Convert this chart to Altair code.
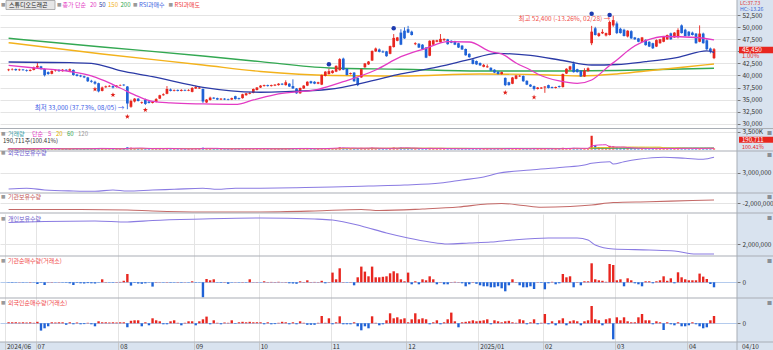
import altair as alt
import pandas as pd

FONT = "Noto Sans CJK KR"
UP, DN = "#e8261f", "#1f62d6"
PINK, NAVY, ORANGE, GREEN = "#e33bc4", "#2b3aa6", "#f3b21b", "#33a852"
PURPLE, BROWN = "#8a7be2", "#c46a68"
GRID = "#e4e4e4"
ZERO = "#b4cbed"
SEP = "#a9aeb5"
BG_AXIS = "#d9e3ef"
FS = 6.5
LFS = 6

# ---------------- data ----------------
N_DAYS = 197
day_index = list(range(N_DAYS))

opens = [
    41100, 41250, 41350, 41100, 41250, 41100, 40950, 41150, 41650, 41900,
    41350, 40700, 40350, 40950, 41150, 40900, 41200, 41000, 41150, 40200,
    40000, 39850, 39600, 38900, 38700, 38400, 36800, 37550, 37700, 37800,
    37600, 37900, 38100, 37700, 33500, 34600, 35200, 34300, 35000, 34600,
    34300, 34500, 35200, 35900, 36200, 37100, 36800, 37000, 36800, 37000,
    36850, 36600, 37300, 37300, 37200, 34400, 34900, 35400, 35300, 35000,
    35200, 35100, 35000, 35700, 35300, 35300, 35900, 36200, 36400, 37000,
    37500, 37800, 38000, 37800, 37900, 38000, 38300, 38000, 38300, 37800,
    37300, 36300, 37300, 37900, 38800, 38700, 38300, 38100, 39900, 40300,
    40500, 40800, 41100, 43500, 41400, 40300, 40600, 39500, 39600, 41700,
    42300, 43100, 45000, 45400, 45000, 45000, 44500, 45900, 47200, 48900,
    49300, 49600, 49100, 46500, 46600, 46400, 45800, 44100, 46400, 47000,
    46900, 47300, 47500, 47200, 47100, 46700, 46200, 45500, 44500, 43300,
    43000, 42600, 41800, 41700, 41600, 41200, 40800, 40300, 39500, 38600,
    38300, 39300, 39800, 39900, 38900, 38100, 37800, 37200, 37300, 37500,
    38000, 37600, 37400, 37800, 37600, 40400, 41200, 42500, 41300, 41000,
    39800, 40900, 46700, 49800, 48200, 48750, 48300, 48400, 50400, 50800,
    49700, 49500, 48100, 49200, 47900, 47700, 47000, 47400, 47000, 46700,
    46000, 46700, 47000, 47500, 48750, 47900, 48100, 50400, 49500, 49100,
    48900, 48700, 47000, 48700, 47300, 45600, 43600,
]
highs = [
    41400, 41500, 41450, 41400, 41350, 41250, 41300, 41850, 42700, 42000,
    41450, 40850, 41050, 41200, 41300, 41350, 41300, 41450, 41250, 40300,
    40150, 39950, 39700, 39100, 38900, 38500, 37700, 37900, 38000, 37950,
    38000, 38150, 38200, 37800, 35000, 35300, 35300, 34600, 35200, 34800,
    34700, 35300, 36000, 36300, 37800, 37300, 37100, 37100, 37150, 37100,
    37150, 37600, 37900, 37700, 37300, 35100, 35600, 35500, 35400, 35300,
    35300, 35200, 35400, 35800, 35400, 36200, 36400, 36550, 37300, 37600,
    38000, 38100, 38100, 38100, 38200, 38400, 38400, 39000, 38400, 39200,
    37400, 37500, 38000, 38800, 38900, 38800, 38700, 40200, 40900, 41400,
    41100, 42100, 43600, 43700, 41500, 40600, 40700, 39600, 41400, 42600,
    43000, 45200, 45800, 45600, 45200, 45100, 46200, 48600, 48000, 49600,
    50000, 50300, 49300, 46900, 46700, 46500, 45900, 47300, 47400, 47400,
    48600, 47700, 47600, 47300, 47200, 46800, 46300, 45600, 44600, 43400,
    43100, 42700, 42400, 42300, 41700, 41300, 40900, 40800, 39600, 38700,
    39700, 40100, 40100, 40000, 39000, 38200, 37900, 37600, 37600, 37800,
    38100, 37700, 37700, 37900, 40400, 41500, 42000, 42900, 41400, 41100,
    41500, 41700, 50300, 50100, 48900, 49600, 48900, 51400, 52400, 51200,
    49900, 49700, 49400, 49400, 48000, 47800, 48000, 47500, 47100, 46800,
    47500, 47600, 48200, 48500, 48900, 49000, 49800, 50600, 49700, 49200,
    49100, 48800, 50400, 48900, 47500, 45800, 45700,
]
lows = [
    40900, 41050, 40950, 40950, 41000, 40800, 40850, 41050, 41550, 41200,
    39800, 40150, 40250, 40800, 40750, 40800, 40900, 40900, 39950, 39800,
    39650, 39450, 38650, 38500, 38100, 36500, 36700, 37450, 37600, 37300,
    37500, 37800, 37800, 33000, 33300, 34400, 34600, 34100, 33900, 34200,
    34200, 34400, 35100, 35800, 36100, 36700, 36700, 36700, 36700, 36750,
    36750, 36500, 37200, 37200, 34300, 34300, 34800, 35100, 34900, 34900,
    34900, 34850, 34900, 35000, 35000, 35200, 35800, 36100, 36300, 36900,
    37400, 37700, 37700, 37700, 37800, 37900, 38000, 37900, 37600, 37200,
    36200, 36200, 37200, 37800, 38300, 38200, 38200, 38000, 39800, 40200,
    40400, 40700, 41000, 41100, 40000, 40200, 38700, 37800, 39500, 41600,
    42200, 43000, 44900, 44800, 44700, 43900, 44400, 45800, 47100, 46300,
    47600, 48800, 48300, 46300, 45700, 45400, 43600, 44000, 46300, 46900,
    46800, 47200, 46400, 46700, 46300, 45700, 45300, 44100, 43700, 42300,
    42200, 42000, 41700, 41600, 40900, 40500, 40200, 40200, 37800, 37900,
    38200, 39200, 39700, 38700, 38000, 37600, 36900, 37100, 37200, 36400,
    37300, 37300, 37300, 37500, 37500, 40300, 41100, 40600, 40600, 39700,
    39700, 40800, 46300, 48300, 48000, 48600, 48100, 48300, 50100, 48600,
    48700, 48100, 47900, 47600, 47400, 46900, 46900, 46200, 45900, 45500,
    45900, 46600, 46900, 47400, 47400, 47800, 47700, 48700, 48100, 48100,
    48300, 46600, 46900, 46600, 45300, 44600, 43400,
]
closes = [
    41250, 41350, 41100, 41250, 41100, 40950, 41150, 41650, 42000, 41350,
    40050, 40300, 40950, 41050, 40900, 41200, 41000, 41300, 40100, 39900,
    39800, 39600, 38800, 38700, 38300, 36700, 37500, 37750, 37850, 37500,
    37900, 38000, 37950, 34200, 34700, 35200, 34700, 34450, 34100, 34300,
    34550, 35100, 35900, 36100, 37200, 36800, 36950, 36800, 37000, 36850,
    37000, 37400, 37600, 37500, 34600, 35000, 35400, 35200, 35000, 35200,
    35000, 34950, 35300, 35100, 35100, 36100, 36300, 36400, 37200, 37500,
    37900, 38000, 37800, 38000, 38100, 38300, 38100, 38600, 37700, 37300,
    36300, 37400, 37900, 38700, 38400, 38300, 38600, 40100, 40800, 40900,
    41000, 42000, 43400, 41200, 40100, 40500, 38800, 38000, 41300, 42500,
    42900, 45100, 45600, 44900, 44800, 44000, 46100, 47800, 47900, 46400,
    47700, 48900, 48400, 46700, 45800, 45500, 43700, 47200, 47300, 47300,
    47600, 47600, 46500, 46800, 46400, 45800, 45400, 44200, 43800, 42400,
    42300, 42100, 42200, 41900, 41000, 40600, 40300, 40700, 38000, 38000,
    39600, 40000, 39950, 38800, 38100, 37700, 37200, 37500, 37500, 37700,
    37400, 37400, 37600, 37600, 40300, 41400, 41900, 40700, 40700, 39800,
    41000, 41500, 49100, 48400, 48750, 49050, 48800, 51100, 51500, 48800,
    48800, 48200, 49300, 47700, 47500, 47000, 47900, 46300, 46000, 45650,
    47350, 47500, 48050, 48400, 47500, 48900, 49450, 48800, 48200, 48250,
    48400, 46700, 48700, 46700, 45450, 45000, 45450,
]
volume_k = [
    150, 140, 130, 160, 120, 140, 130, 180, 220, 170,
    250, 160, 140, 120, 130, 140, 120, 130, 200, 150,
    140, 150, 200, 180, 210, 300, 200, 150, 130, 180,
    140, 150, 160, 420, 350, 250, 200, 180, 230, 170,
    160, 200, 220, 180, 260, 170, 130, 120, 130, 120,
    120, 200, 170, 150, 360, 260, 200, 150, 140, 130,
    120, 130, 140, 150, 130, 170, 160, 150, 190, 180,
    160, 150, 120, 120, 130, 140, 120, 180, 160, 230,
    250, 200, 170, 190, 150, 140, 130, 280, 230, 240,
    260, 300, 420, 350, 240, 160, 280, 300, 320, 260,
    230, 350, 280, 200, 170, 200, 280, 380, 260, 360,
    300, 280, 200, 250, 180, 170, 240, 300, 210, 160,
    220, 160, 170, 140, 150, 160, 150, 200, 170, 180,
    150, 140, 150, 130, 160, 170, 150, 140, 260, 180,
    200, 160, 130, 180, 170, 150, 220, 140, 130, 200,
    160, 130, 120, 130, 330, 260, 220, 320, 180, 200,
    220, 190, 2700, 850, 480, 360, 300, 720, 620, 450,
    320, 300, 280, 300, 200, 190, 230, 210, 200, 220,
    230, 180, 210, 200, 190, 170, 280, 290, 220, 190,
    170, 230, 280, 240, 260, 190, 191,
]
inst_net_k = [
    -3, -4, -3, 2, -3, -2, 3, -2, -17, -4,
    -27, 2, 3, -2, 2, -3, -4, -10, -27, -5,
    -10, -12, -8, -10, -12, -3, 30, 3, -3, -4,
    3, 4, 15, 83, -33, -5, -12, -15, -10, -3,
    -43, 3, 2, -3, 3, -4, -3, 3, -4, 2,
    -3, 10, -4, -3, -150, 33, 20, 30, -3, -5,
    3, -15, -3, 2, -3, 3, -3, 30, 2, 3,
    -2, 10, 3, 4, 3, 5, 2, 3, -10, -12,
    -15, 10, 3, 20, 3, 4, 3, 15, -10, 3,
    97, 30, 140, 3, -3, 3, -30, 50, 157, 107,
    60, 157, 50, 50, 55, 60, 90, 110, 90, 30,
    10, 97, -20, 10, -20, 30, 20, 60, 30, -20,
    3, -20, -20, 3, 5, 3, -10, -40, -20, 3,
    -15, -30, -40, -40, -50, -50, -40, -60, -90, -30,
    30, 3, -30, -50, -50, -40, -67, 3, -5, -70,
    -10, 5, -20, -10, 83, 50, 60, -50, 3, -30,
    10, 10, 190, 30, 20, 15, 5, 183, 173, 20,
    30, -40, 40, 20, -10, -20, -40, 10, 10, -10,
    10, 20, 60, 15, 40, -10, 100, 50, 30, 20,
    20, 20, 87, 57, 33, -17, -50,
]
frgn_net_k = [
    10, 10, 10, 8, 10, 8, 10, 5, 15, -73,
    -50, -30, 10, 8, 10, 10, -15, 10, -10, 8,
    -10, -8, 5, -10, -30, 20, 10, 10, 8, 10,
    8, 10, 10, -40, 25, 30, 30, -30, 10, -20,
    50, 30, 20, -10, -10, 20, 30, 5, -20, 5,
    20, 20, -20, 20, 40, 67, -10, 30, 5, -10,
    8, 5, 30, -5, 10, 15, 10, 15, 10, 10,
    10, -10, 10, -10, -8, 5, 15, 10, -10, 10,
    -10, 20, 5, -15, -15, -15, 5, 73, 5, 50,
    -10, 10, 70, -10, -10, -10, 10, -30, -70, -30,
    -50, 70, 5, -20, -10, 30, 100, 50, 60, 40,
    50, 10, 40, 100, 40, 50, 40, -10, 10, 30,
    -10, 10, 40, 107, 20, -40, 10, 15, 20, 30,
    20, 25, 30, 40, -10, 30, 20, 10, 20, 25,
    10, 5, 40, 30, -10, 10, 40, -10, 5, 93,
    -10, 20, -20, 30, 50, -20, 20, 30, 20, -20,
    20, 30, 173, 40, 30, -20, 40, 50, -160, 60,
    30, 60, 20, 10, 10, 60, 93, 30, 30, -10,
    20, 10, -67, 10, -10, -20, 10, -30, -30, -20,
    10, -10, -30, -50, -40, 30, 73,
]

# moving averages of the close, read at selected days
ma20_day = [0, 8, 17, 23, 26, 31, 36, 40, 45, 54, 63, 68, 75, 86, 93, 102, 109, 116, 122, 128,
            134, 137, 141, 145, 147, 153, 158, 162, 167, 169, 173, 179, 182, 191, 196]
ma20_val = [42080, 41500, 40830, 39900, 39070, 37410, 35650, 34610, 34300, 34090, 33990, 34920,
            36165, 37140, 38720, 41145, 43905, 45650, 47020, 46955, 44940, 44465, 42600, 41145,
            40315, 38860, 38345, 39070, 42080, 43220, 45650, 47680, 48095, 47890, 47370]
ma50_day = [0, 17, 23, 31, 40, 54, 70, 77, 89, 100, 109, 118, 127, 136, 145, 154, 162, 169, 177,
            186, 194, 196]
ma50_val = [42805, 42660, 42535, 41000, 39755, 37555, 36520, 36640, 37140, 38720, 40315, 41560,
            43115, 44570, 44155, 43115, 42180, 42285, 42870, 43780, 45090, 44775]
ma150_day = [0, 26, 54, 70, 90, 109, 131, 150, 159, 169, 177, 188, 196]
ma150_val = [46810, 44465, 42180, 40835, 40000, 39900, 40315, 40110, 39900, 40315, 40935, 41770,
             42390]
ma200_day = [0, 26, 54, 70, 89, 109, 131, 154, 169, 196]
ma200_val = [47725, 45920, 44050, 42870, 41560, 41290, 40935, 40935, 41040, 41500]

rsi_buy_day = [89, 107, 162, 167]
rsi_buy_val = [42330, 49800, 52830, 52560]
rsi_sell_day = [24, 29, 33, 38, 138, 146]
rsi_sell_val = [37140, 35960, 31455, 32845, 36435, 35480]

frgn_hold_day = [0, 5, 10, 18, 24, 29, 33, 40, 46, 54, 58, 63, 70, 80, 90, 100, 110, 120, 126,
                 132, 136, 145, 154, 160, 162, 167, 168, 171, 175, 182, 188, 193, 196]
frgn_hold_val = [2674000, 2690000, 2654000, 2634000, 2628000, 2654000, 2634000, 2654000, 2668000,
                 2688000, 2668000, 2688000, 2690000, 2700000, 2714000, 2734000, 2754000, 2794000,
                 2854000, 2914000, 2988000, 3054000, 3108000, 3154000, 3188000, 3220000, 3174000,
                 3220000, 3268000, 3308000, 3288000, 3270000, 3308000]
inst_hold_day = [0, 20, 33, 40, 54, 70, 85, 98, 103, 115, 125, 133, 137, 143, 148, 156, 162, 168,
                 178, 190, 196]
inst_hold_val = [-2124000, -2124000, -2134000, -2154000, -2174000, -2174000, -2154000, -2124000,
                 -2144000, -2114000, -2074000, -2014000, -2004000, -2044000, -2080000, -2064000,
                 -2034000, -1984000, -1968000, -1944000, -1934000]
indiv_hold_day = [0, 10, 24, 33, 40, 54, 70, 85, 90, 98, 105, 111, 117, 122, 128, 134, 140, 150,
                  158, 161, 163, 168, 178, 185, 191, 196]
indiv_hold_val = [2430000, 2450000, 2460000, 2440000, 2470000, 2500000, 2520000, 2500000, 2480000,
                  2360000, 2220000, 2120000, 2040000, 2000000, 2020000, 2040000, 2080000, 2120000,
                  2120000, 2080000, 1980000, 1900000, 1880000, 1860000, 1800000, 1800000]

month_pos = [-1, 7.5, 30.5, 51.5, 69.5, 89.5, 110.5, 130.5, 148.5, 168.5, 188.5]
month_lab = ["2024/06", "07", "08", "09", "10", "11", "12", "2025/01", "02", "03", "04"]
price_ticks = [30000, 32500, 35000, 37500, 40000, 42500, 45000, 47500, 50000, 52500]
price_hidden_tick = 45000   # covered by the current-price tag in the reference

# ---------------- frames ----------------
cdf = pd.DataFrame(dict(d=day_index, o=opens, h=highs, l=lows, c=closes, v=volume_k,
                        ni=inst_net_k, nf=frgn_net_k))
cdf["col"] = [UP if c >= o else DN for o, c in zip(opens, closes)]
cdf["ci"] = [UP if n >= 0 else DN for n in inst_net_k]
cdf["cf"] = [UP if n >= 0 else DN for n in frgn_net_k]
one = pd.DataFrame({"a": [0]})

# ---------------- x ----------------
lab_expr = ("[" + ",".join("'%s'" % s for s in month_lab) + "][indexof(["
            + ",".join(str(p) for p in month_pos) + "], datum.value)]")
xscale = alt.Scale(domain=[-1, 201], nice=False, zero=False)
x_axis = alt.Axis(values=month_pos, labelExpr=lab_expr, grid=True, gridColor=GRID, domain=False,
                  tickSize=8, tickColor="#c8c8c8", labelAlign="left", labelBaseline="top",
                  labelPadding=-7, labelOffset=1.5, labelFont=FONT, labelFontSize=FS,
                  labelColor="#333", labelFlush=False, labelOverlap=False, labelBound=False,
                  title=None, orient="bottom")


def X(f):
    return alt.X(f + ":Q", scale=xscale, axis=x_axis)


def XD(v):
    return alt.XDatum(v, type="quantitative", scale=xscale, axis=x_axis)


COMMA = "replace(format(datum.value, ','), '\u2212', '-')"


def yaxis(values, expr=COMMA, gridc=GRID):
    return alt.Axis(orient="right", values=values, grid=True, gridColor=gridc, domain=False,
                    tickSize=3, tickColor="#777", labelPadding=2, labelFont=FONT,
                    labelFontSize=FS, labelColor="#333", labelFlush=False, labelOverlap=False,
                    labelBound=False, title=None, labelExpr=expr)


class Panel:
    def __init__(self, dom, rng, axis):
        self.sc = alt.Scale(domain=dom, range=rng, nice=False, zero=False)
        self.ax = axis
        self.top = dom[1]

    def Y(self, f):
        return alt.Y(f + ":Q", scale=self.sc, axis=self.ax)

    def YD(self, v):
        return alt.YDatum(v, type="quantitative", scale=self.sc, axis=self.ax)

    def sep(self):
        return alt.Chart(one).mark_rule(color=SEP, strokeWidth=1.2).encode(
            y=self.YD(self.top), x=alt.value(0), x2=alt.value(773))


def line(p, dd, vv, color, w=1.2):
    df = pd.DataFrame({"d": dd, "m": vv})
    return alt.Chart(df).mark_line(color=color, strokeWidth=w, interpolate="monotone").encode(
        x=X("d"), y=p.Y("m"))


# ---------------- price panel ----------------
P = Panel([29100, 55670], [128, 0],
          yaxis(price_ticks, "datum.value == %d ? '' : format(datum.value, ',')" % price_hidden_tick))
STAR = "M0,-1L0.24,-0.33L0.95,-0.31L0.38,0.12L0.59,0.81L0,0.4L-0.59,0.81L-0.38,0.12L-0.95,-0.31L-0.24,-0.33Z"
price_layers = [
    line(P, ma200_day, ma200_val, GREEN, 1.4),
    line(P, ma150_day, ma150_val, ORANGE, 1.4),
    alt.Chart(cdf).mark_rule(strokeWidth=0.9).encode(
        x=X("d"), y=P.Y("l"), y2=alt.Y2("h:Q"), color=alt.Color("col:N", scale=None)),
    alt.Chart(cdf).mark_bar(size=2.7).encode(
        x=X("d"), y=P.Y("o"), y2=alt.Y2("c:Q"), color=alt.Color("col:N", scale=None)),
    line(P, ma50_day, ma50_val, NAVY, 1.3),
    line(P, ma20_day, ma20_val, PINK, 1.3),
    alt.Chart(pd.DataFrame({"d": rsi_buy_day, "m": rsi_buy_val})).mark_point(
        shape="circle", filled=True, size=20, color="#1d3bb0", opacity=1).encode(x=X("d"), y=P.Y("m")),
    alt.Chart(pd.DataFrame({"d": rsi_sell_day, "m": rsi_sell_val})).mark_point(
        shape=STAR, filled=True, size=28, color="#e0201a", opacity=1).encode(x=X("d"), y=P.Y("m")),
    alt.Chart(one).mark_text(text="최저 33,000 (37.73%, 08/05) →", align="right", baseline="middle",
                             dx=-3, font=FONT, fontSize=FS, color="#3b5be6").encode(
        x=XD(33), y=P.YD(33200)),
    alt.Chart(one).mark_text(text="최고 52,400 (-13.26%, 02/28) →", align="right", baseline="middle",
                             dx=-3, font=FONT, fontSize=FS, color="#f0504a").encode(
        x=XD(168), y=P.YD(51730)),
    alt.Chart(one).mark_rect(color="#e8261f").encode(
        x=alt.value(739), x2=alt.value(773), y=P.YD(45980), y2=alt.Y2Datum(44610)),
    alt.Chart(one).mark_text(text="45,450", align="left", baseline="middle", font=FONT,
                             fontSize=FS, color="#ffffff").encode(x=alt.value(742), y=P.YD(45295)),
    alt.Chart(one).mark_text(text="1.00%", align="left", baseline="middle", font=FONT,
                             fontSize=6, color="#e8261f").encode(x=alt.value(742), y=P.YD(44000)),
]
price = alt.layer(*price_layers)

# ---------------- volume panel ----------------
V = Panel([0, 4130], [149.5, 128.5], yaxis([3500], "format(datum.value, ',') + 'K'"))


def vol_ma(name, n, color):
    return alt.Chart(cdf).transform_window(
        **{name: "mean(v)"}, frame=[-(n - 1), 0], sort=[alt.SortField("d")]
    ).mark_line(color=color, strokeWidth=1).encode(x=X("d"), y=V.Y(name))


vol = alt.layer(
    alt.Chart(cdf).mark_bar(size=2.2).encode(
        x=X("d"), y=V.Y("v"), y2=alt.Y2Datum(0), color=alt.Color("col:N", scale=None)),
    vol_ma("m120", 120, "#aaaaaa"),
    vol_ma("m60", 60, GREEN),
    vol_ma("m20", 20, "#e8c020"),
    vol_ma("m5", 5, PINK),
    V.sep(),
    alt.Chart(one).mark_rect(color="#e8261f").encode(
        x=alt.value(739), x2=alt.value(773), y=V.YD(2520), y2=alt.Y2Datum(1340)),
    alt.Chart(one).mark_text(text="190,711", align="left", baseline="middle", font=FONT,
                             fontSize=6, color="#ffffff").encode(x=alt.value(742), y=V.YD(1930)),
    alt.Chart(one).mark_text(text="100.41%", align="left", baseline="middle", font=FONT,
                             fontSize=5.5, color="#e8261f").encode(x=alt.value(742), y=V.YD(560)),
)

# ---------------- holdings panels ----------------
F = Panel([2594000, 3434000], [193, 151], yaxis([3000000]))
frgn = alt.layer(line(F, frgn_hold_day, frgn_hold_val, PURPLE, 1.1), F.sep())

I = Panel([-2194000, -1794000], [213, 193], yaxis([-2000000]))
inst = alt.layer(line(I, inst_hold_day, inst_hold_val, BROWN, 1.1), I.sep())

D = Panel([1760000, 2620000], [256, 213], yaxis([2000000]))
indiv = alt.layer(line(D, indiv_hold_day, indiv_hold_val, PURPLE, 1.1), D.sep())

# ---------------- net buy panels ----------------
NI = Panel([-157, 263], [298, 256], yaxis([0], gridc=ZERO))
instnet = alt.layer(
    alt.Chart(cdf).mark_bar(size=2.4).encode(
        x=X("d"), y=NI.Y("ni"), y2=alt.Y2Datum(0), color=alt.Color("ci:N", scale=None)),
    NI.sep())

NF = Panel([-187, 253], [342, 298], yaxis([0], gridc=ZERO))
frgnnet = alt.layer(
    alt.Chart(cdf).mark_bar(size=2.4).encode(
        x=X("d"), y=NF.Y("nf"), y2=alt.Y2Datum(0), color=alt.Color("cf:N", scale=None)),
    NF.sep())


# ---------------- decorations / legends ----------------
def txt(s, x, y, color, size=LFS, align="left"):
    return alt.Chart(one).mark_text(text=s, align=align, baseline="middle", font=FONT,
                                    fontSize=size, color=color).encode(x=alt.value(x), y=alt.value(y))


GREY = "#9a9a9a"
decor = [
    alt.Chart(one).mark_rule(color="#a7adb5", strokeWidth=1).encode(
        x=alt.value(737), y=alt.value(0), y2=alt.value(350)),
    alt.Chart(one).mark_rule(color="#a7adb5", strokeWidth=1).encode(
        y=alt.value(342), x=alt.value(0), x2=alt.value(773)),
    alt.Chart(one).mark_rect(fill="#e6e6e6", stroke="#a0a0a0", strokeWidth=0.8).encode(
        x=alt.value(6), x2=alt.value(55), y=alt.value(0.5), y2=alt.value(9.5)),
    txt("■", 1, 5, GREY, 4.5), txt("스튜디오드래곤", 9, 5, "#222"),
    txt("■", 57, 5, GREY, 4.5), txt("종가 단순", 62.5, 5, PINK), txt("20", 90, 5, PINK),
    txt("50", 99, 5, NAVY), txt("150", 108, 5, ORANGE), txt("200", 120.5, 5, GREEN),
    txt("■", 133, 5, GREY, 4.5), txt("RSI과매수", 139, 5, "#3f5fe0"),
    txt("■", 168.5, 5, GREY, 4.5), txt("RSI과매도", 174.5, 5, "#f04040"),
    txt("LC:37.73", 740, 3.0, "#e03a3a", 5.2), txt("HC:-13.26", 740, 9.2, "#3a66d6", 5.2),
    txt("■", 1, 134, GREY, 4.5), txt("거래량", 8, 134, "#3aa0a8"), txt("단순", 32, 134, PINK),
    txt("5", 48, 134, PINK), txt("20", 56, 134, "#e0b000"), txt("60", 67, 134, GREEN),
    txt("120", 78, 134, "#999999"),
    txt("190,711주(100.41%)", 3, 140.5, "#333"),
    txt("■", 1, 153, GREY, 4.5), txt("외국인보유수량", 8, 153, "#6a5acd"),
    txt("■", 1, 197, GREY, 4.5), txt("기관보유수량", 8, 197, "#c05050"),
    txt("■", 1, 218.5, GREY, 4.5), txt("개인보유수량", 8, 218.5, "#6a5acd"),
    txt("■", 1, 260.5, GREY, 4.5), txt("기관순매수량(거래소)", 8, 260.5, "#f04848"),
    txt("■", 1, 302.5, GREY, 4.5), txt("외국인순매수량(거래소)", 8, 302.5, "#f04848"),
    txt("04/10", 742, 346.5, "#333", FS),
]
for yy in [131.5, 154, 195.5, 216.5, 259.5, 302]:
    decor.append(txt("■", 767, yy, "#8a8f96", 5))

chart = alt.layer(price, vol, frgn, inst, indiv, instnet, frgnnet, *decor).resolve_scale(
    y="independent").resolve_axis(y="independent").properties(
    width=737, height=342, autosize=alt.AutoSizeParams(type="none"),
    padding={"left": 0, "top": 0, "right": 36, "bottom": 8}, background=BG_AXIS
).configure_view(fill="white", stroke=None)

chart.save("out.html", embed_options={"renderer": "svg", "actions": False})
